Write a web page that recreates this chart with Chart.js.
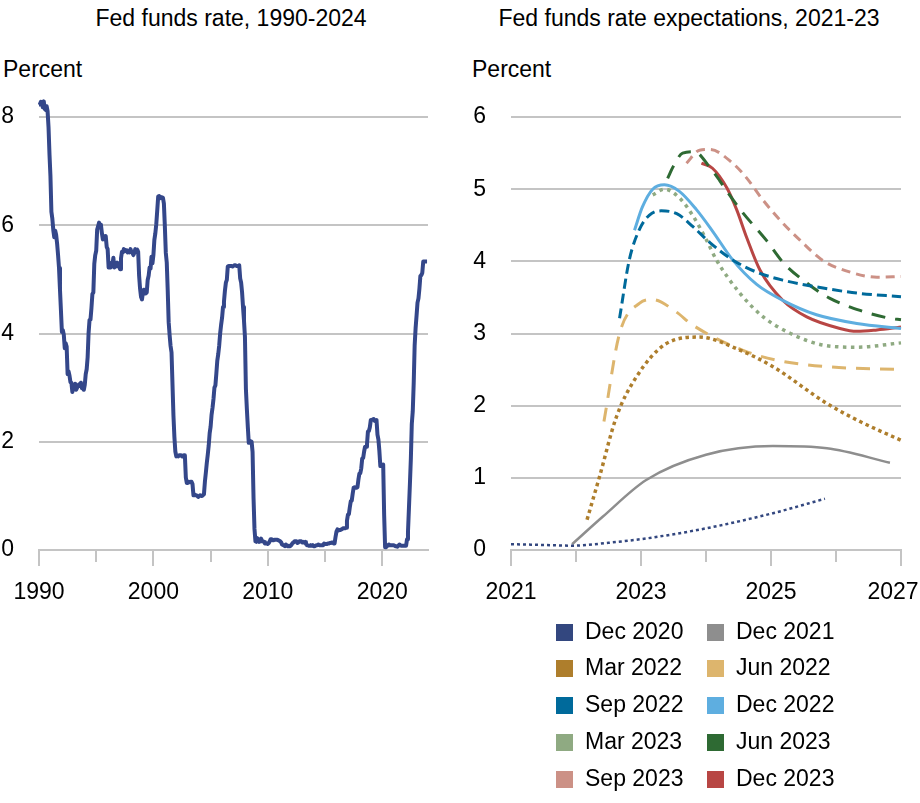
<!DOCTYPE html>
<html>
<head>
<meta charset="utf-8">
<script src="https://cdn.jsdelivr.net/npm/chart.js@4.4.0/dist/chart.umd.min.js"></script>
<style>
  html, body { margin: 0; padding: 0; background: #fff; }
  body { width: 920px; height: 803px; position: relative; overflow: hidden;
         font-family: "Liberation Sans", Arial, sans-serif; color: #000; }
  .t { position: absolute; font-size: 23px; white-space: nowrap; line-height: 1; }
  canvas { position: absolute; top: 0; }
  .leg { position: absolute; font-size: 23px; line-height: 1; white-space: nowrap; }
  .sw { position: absolute; width: 17px; height: 17px; }
</style>
</head>
<body>
<div class="t" id="title1">Fed funds rate, 1990-2024</div>
<div class="t" id="title2">Fed funds rate expectations, 2021-23</div>
<div class="t" style="left:3px; top:58px;">Percent</div>
<div class="t" style="left:472px; top:58px;">Percent</div>
<canvas id="c1" width="440" height="620" style="left:0px;"></canvas>
<canvas id="c2" width="460" height="620" style="left:460px;"></canvas>
<div id="legend"></div>
<script>
// ---------------- DATA ----------------
// Left panel: monthly effective fed funds rate, Jan 1990 - Dec 2023
const fedFundsStartYear = 1990;
const fedFunds = [
 8.23,8.24,8.28,8.26,8.18,8.29,8.15,8.13,8.20,8.11,7.81,7.31,
 6.91,6.25,6.12,5.91,5.78,5.90,5.82,5.66,5.45,5.21,4.81,4.43,
 4.03,4.06,3.98,3.73,3.82,3.76,3.25,3.30,3.22,3.10,3.09,2.92,
 3.02,3.03,3.07,2.96,3.00,3.04,3.06,3.03,3.09,2.99,3.02,2.96,
 3.05,3.25,3.34,3.56,4.01,4.25,4.26,4.47,4.73,4.76,5.29,5.45,
 5.53,5.92,5.98,6.05,6.01,6.00,5.85,5.74,5.80,5.76,5.80,5.60,
 5.56,5.22,5.31,5.22,5.24,5.27,5.40,5.22,5.30,5.24,5.31,5.29,
 5.25,5.19,5.39,5.51,5.50,5.56,5.52,5.54,5.54,5.50,5.52,5.50,
 5.56,5.51,5.49,5.45,5.49,5.56,5.54,5.55,5.51,5.07,4.83,4.68,
 4.63,4.76,4.81,4.74,4.74,4.76,4.99,5.07,5.22,5.20,5.42,5.30,
 5.45,5.73,5.85,6.02,6.27,6.53,6.54,6.50,6.52,6.51,6.51,6.40,
 5.98,5.49,5.31,4.80,4.21,3.97,3.77,3.65,3.07,2.49,2.09,1.82,
 1.73,1.74,1.73,1.75,1.75,1.75,1.73,1.74,1.75,1.75,1.34,1.24,
 1.24,1.26,1.25,1.26,1.26,1.22,1.01,1.03,1.01,1.01,1.00,0.98,
 1.00,1.01,1.00,1.00,1.00,1.03,1.26,1.43,1.61,1.76,1.93,2.16,
 2.28,2.50,2.63,2.79,3.00,3.04,3.26,3.50,3.62,3.78,4.00,4.16,
 4.29,4.49,4.59,4.79,4.94,4.99,5.24,5.25,5.25,5.25,5.25,5.24,
 5.25,5.26,5.26,5.25,5.25,5.25,5.26,5.02,4.94,4.76,4.49,4.24,
 3.94,2.98,2.61,2.28,1.98,2.00,2.01,2.00,1.81,0.97,0.39,0.16,
 0.15,0.22,0.18,0.15,0.18,0.21,0.16,0.16,0.15,0.12,0.12,0.12,
 0.11,0.13,0.16,0.20,0.20,0.18,0.18,0.19,0.19,0.19,0.19,0.18,
 0.17,0.16,0.14,0.10,0.09,0.09,0.07,0.10,0.08,0.07,0.08,0.07,
 0.08,0.10,0.13,0.14,0.16,0.16,0.16,0.13,0.14,0.16,0.16,0.16,
 0.14,0.15,0.14,0.15,0.11,0.09,0.09,0.08,0.08,0.09,0.08,0.09,
 0.07,0.07,0.08,0.09,0.09,0.10,0.09,0.09,0.09,0.09,0.09,0.12,
 0.11,0.11,0.11,0.12,0.12,0.13,0.13,0.14,0.14,0.12,0.12,0.24,
 0.34,0.38,0.36,0.37,0.37,0.38,0.39,0.40,0.40,0.40,0.41,0.54,
 0.65,0.66,0.79,0.90,0.91,1.04,1.15,1.16,1.15,1.15,1.16,1.30,
 1.41,1.42,1.51,1.69,1.70,1.82,1.91,1.91,1.95,2.19,2.20,2.27,
 2.40,2.40,2.41,2.42,2.39,2.38,2.40,2.13,2.04,1.83,1.55,1.55,
 1.55,1.58,0.65,0.05,0.05,0.08,0.09,0.10,0.09,0.09,0.09,0.09,
 0.09,0.08,0.07,0.07,0.06,0.08,0.10,0.09,0.08,0.08,0.08,0.08,
 0.08,0.08,0.20,0.33,0.77,1.21,1.68,2.33,2.56,3.08,3.78,4.10,
 4.33,4.57,4.65,4.83,5.06,5.08,5.12,5.33,5.33,5.33,5.33,5.33
];
const leftYTicks = [0, 2, 4, 6, 8];
const leftXLabels = [1990, 2000, 2010, 2020];

// Right panel: expected paths, [year, percent]
const dec2020 = [[2021.0,0.08],[2021.5,0.07],[2021.95,0.06],[2022.5,0.10],[2023.08,0.16],[2024.0,0.30],[2025.03,0.51],[2025.83,0.71]];
const dec2021 = [[2021.94,0.08],[2022.41,0.46],[2023.08,0.97],[2024.0,1.32],[2025.03,1.44],[2025.86,1.41],[2026.83,1.21]];
const mar2022 = [[2022.17,0.42],[2022.36,1.01],[2022.62,1.84],[2022.93,2.40],[2023.39,2.86],[2023.9,2.95],[2024.52,2.77],[2025.03,2.54],[2025.86,2.03],[2026.37,1.78],[2027.0,1.52]];
const jun2022 = [[2022.43,1.78],[2022.67,3.0],[2022.98,3.42],[2023.18,3.47],[2023.54,3.30],[2023.79,3.12],[2024.56,2.77],[2025.09,2.63],[2025.86,2.54],[2027.0,2.50]];
const sep2022 = [[2022.67,3.21],[2022.82,4.02],[2022.98,4.45],[2023.13,4.64],[2023.31,4.70],[2023.55,4.66],[2023.8,4.48],[2024.06,4.26],[2024.41,4.02],[2024.78,3.85],[2025.18,3.74],[2025.8,3.63],[2026.32,3.56],[2027.0,3.51]];
const dec2022 = [[2022.9,4.43],[2023.02,4.75],[2023.18,5.0],[2023.36,5.06],[2023.59,4.97],[2023.85,4.72],[2024.1,4.42],[2024.41,4.02],[2024.78,3.68],[2025.18,3.46],[2025.7,3.26],[2026.32,3.14],[2027.0,3.07]];
const mar2023 = [[2023.18,4.92],[2023.36,5.0],[2023.59,4.88],[2023.8,4.63],[2024.01,4.29],[2024.16,4.02],[2024.52,3.56],[2024.88,3.23],[2025.3,3.0],[2025.8,2.84],[2026.32,2.81],[2027.0,2.87]];
const jun2023 = [[2023.41,5.15],[2023.5,5.32],[2023.64,5.50],[2023.82,5.52],[2024.06,5.30],[2024.21,5.12],[2024.33,4.96],[2024.56,4.68],[2024.93,4.29],[2025.18,3.99],[2025.55,3.70],[2025.9,3.49],[2026.37,3.32],[2026.83,3.21],[2027.0,3.19]];
const sep2023 = [[2023.70,5.36],[2023.9,5.54],[2024.06,5.55],[2024.41,5.36],[2024.63,5.15],[2024.85,4.88],[2025.14,4.57],[2025.45,4.29],[2025.8,4.01],[2026.22,3.85],[2026.63,3.78],[2027.0,3.79]];
const dec2023 = [[2023.93,5.36],[2024.1,5.29],[2024.32,5.02],[2024.47,4.72],[2024.63,4.32],[2024.83,3.88],[2025.18,3.46],[2025.55,3.23],[2026.06,3.07],[2026.32,3.03],[2026.63,3.05],[2027.0,3.09]];

const seriesNames  = ['Dec 2020','Dec 2021','Mar 2022','Jun 2022','Sep 2022','Dec 2022','Mar 2023','Jun 2023','Sep 2023','Dec 2023'];
const seriesData   = [dec2020, dec2021, mar2022, jun2022, sep2022, dec2022, mar2023, jun2023, sep2023, dec2023];
const seriesColors = ['#33477F','#8E8E8E','#AE7E2C','#DDB56D','#006A9B','#5EAEE0','#8FAA82','#2E6A33','#CC9186','#B84644'];
const seriesDash   = [[3,3],[],[3.5,3.5],[14,10],[10,5],[],[3.5,4.5],[14,10],[9,6],[]];
const seriesWidth  = [2.5,2.5,3.5,3,3,3,3.5,3,3,3];
const rightYTicks = [0,1,2,3,4,5,6];
const rightXLabels = [2021, 2023, 2025, 2027];

// ---------------- RENDER ----------------
const FONT = { family: '"Liberation Sans", Arial, sans-serif', size: 23 };
const GRID = '#C4C4C4';

function centerTitle(id, cx, top) {
  const el = document.getElementById(id);
  el.style.top = top + 'px';
  el.style.left = (cx - el.offsetWidth / 2) + 'px';
}
centerTitle('title1', 231, 7);
centerTitle('title2', 689, 7);

function fixedY(w) { return function (s) { s.width = w; }; }
function fixedX(h) { return function (s) { s.height = h; s.paddingLeft = 0; s.paddingRight = 0; }; }
// major ticks full length, minor ticks shorter (dash trick)
function tickDash(labels) {
  return ctx => (ctx.tick && labels.includes(ctx.tick.value)) ? [] : [11, 100];
}
// keep the last x label inside the canvas (as in the reference)
const shiftLastLabel = {
  id: 'shiftLastLabel',
  beforeDraw(chart) {
    const sc = chart.scales.x;
    const items = sc.getLabelItems();
    items.forEach(it => {
      if (String(it.label) === '2027') it.options.translation[0] -= 8;
    });
  }
};

// Left chart
const leftPoints = fedFunds.map((v, i) => ({ x: fedFundsStartYear + i / 12, y: v }));
new Chart(document.getElementById('c1'), {
  type: 'line',
  data: { datasets: [{ data: leftPoints, borderColor: '#34478A', borderWidth: 4, pointRadius: 0, tension: 0, clip: false, borderJoinStyle: 'round' }] },
  options: {
    responsive: false, animation: false, events: [],
    layout: { padding: { left: 0, right: 12, top: 90, bottom: 0 } },
    plugins: { legend: { display: false }, tooltip: { enabled: false } },
    scales: {
      x: {
        type: 'linear', min: 1990, max: 2024,
        afterFit: fixedX(70),
        ticks: { stepSize: 5, includeBounds: false, autoSkip: false, maxRotation: 0, padding: 13,
                 color: '#000', font: FONT,
                 callback: v => leftXLabels.includes(v) ? String(v) : '' },
        grid: { drawOnChartArea: false, color: GRID, lineWidth: 2, tickLength: 16,
                tickBorderDash: tickDash(leftXLabels) },
        border: { display: true, color: GRID, width: 2 }
      },
      y: {
        min: 0, max: 8.5,
        afterFit: fixedY(39),
        afterBuildTicks: s => { s.ticks = leftYTicks.map(v => ({ value: v })); },
        ticks: { color: '#000', font: FONT, padding: 25 },
        grid: { color: GRID, lineWidth: 2, drawTicks: false },
        border: { display: false }
      }
    }
  }
});

// Right chart
new Chart(document.getElementById('c2'), {
  type: 'line',
  data: {
    datasets: seriesData.map((d, i) => ({
      label: seriesNames[i],
      data: d.map(p => ({ x: p[0], y: p[1] })),
      borderColor: seriesColors[i], backgroundColor: seriesColors[i],
      borderWidth: seriesWidth[i], borderDash: seriesDash[i],
      pointRadius: 0, cubicInterpolationMode: 'monotone', clip: false
    }))
  },
  options: {
    responsive: false, animation: false, events: [],
    layout: { padding: { left: 0, right: 19, top: 117, bottom: 0 } },
    plugins: { legend: { display: false }, tooltip: { enabled: false } },
    scales: {
      x: {
        type: 'linear', min: 2021, max: 2027,
        afterFit: fixedX(70),
        ticks: { stepSize: 1, autoSkip: false, maxRotation: 0, padding: 13,
                 color: '#000', font: FONT,
                 callback: v => rightXLabels.includes(v) ? String(v) : '' },
        grid: { drawOnChartArea: false, color: GRID, lineWidth: 2, tickLength: 16,
                tickBorderDash: tickDash(rightXLabels) },
        border: { display: true, color: GRID, width: 2 }
      },
      y: {
        min: 0, max: 6,
        afterFit: fixedY(51),
        afterBuildTicks: s => { s.ticks = rightYTicks.map(v => ({ value: v })); },
        ticks: { color: '#000', font: FONT, padding: 25 },
        grid: { color: GRID, lineWidth: 2, drawTicks: false },
        border: { display: false }
      }
    }
  },
  plugins: [shiftLastLabel]
});

// Legend (two columns)
const legend = document.getElementById('legend');
const colX = [556, 707];
const rowY = [632, 668, 705, 742, 779];
seriesNames.forEach((name, i) => {
  const col = i % 2, row = Math.floor(i / 2);
  const sw = document.createElement('div');
  sw.className = 'sw';
  sw.style.background = seriesColors[i];
  sw.style.left = colX[col] + 'px';
  sw.style.top = (rowY[row] - 8.5) + 'px';
  legend.appendChild(sw);
  const tx = document.createElement('div');
  tx.className = 'leg';
  tx.textContent = name;
  tx.style.left = (colX[col] + 29) + 'px';
  tx.style.top = (rowY[row] - 12) + 'px';
  legend.appendChild(tx);
});
</script>
</body>
</html>
